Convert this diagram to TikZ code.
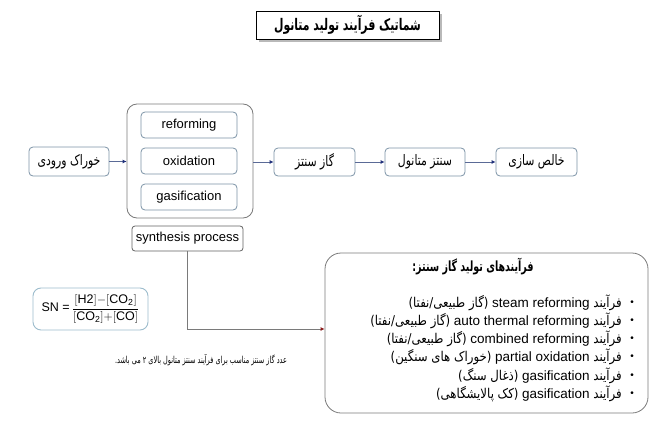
\documentclass[tikz,border=0pt]{standalone}
\usepackage{fontspec}
\usetikzlibrary{arrows.meta}
\setmainfont{Liberation Sans}
\newfontfamily\fa[Script=Arabic, FakeStretch=0.87]{DejaVu Sans}
\newfontfamily\fabox[Script=Arabic, FakeStretch=0.75]{DejaVu Sans}
\newfontfamily\fanar[Script=Arabic, FakeStretch=0.68]{DejaVu Sans}
\newfontfamily\en{Liberation Sans}
\TeXXeTstate=1
\newcommand{\fatxt}[1]{{\fa\beginR #1\endR}}
\newcommand{\entxt}[1]{\beginL{\en #1}\endL{}}
\definecolor{boxc}{HTML}{7C93A6}
\definecolor{linec}{HTML}{5A6A96}
\definecolor{tipc}{HTML}{1F2F7A}
\definecolor{snc}{HTML}{9CBCCC}
\definecolor{grayc}{HTML}{7A7A7A}
\definecolor{redtip}{HTML}{8B1A1A}
\tikzset{
  pbox/.style={draw=boxc, rounded corners=4pt, line width=0.8pt, inner sep=0pt, fill=white},
  flow/.style={draw=linec, line width=0.8pt, -{Latex[length=4pt,width=4pt,color=tipc]}},
  conn/.style={draw=grayc, line width=0.8pt, -{Latex[length=4pt,width=4pt,color=redtip]}},
  entx/.style={font=\en\fontsize{13}{15}\selectfont},
  fatx/.style={font=\fabox\fontsize{14.5}{16}\selectfont},
  listline/.style={anchor=east, inner sep=0pt, font=\fontsize{13.5}{15}\selectfont},
  bullet/.style={inner sep=0pt, font=\en\fontsize{10}{12}\selectfont}
}
\begin{document}
\begin{tikzpicture}[x=1pt,y=-1pt]
\useasboundingbox (0,0) rectangle (654,423);
% title
\fill[gray!55] (258.5,13.5) rectangle (441.5,41.5);
\node[draw=black, line width=0.9pt, fill=white, minimum width=183pt, minimum height=28pt, inner sep=0pt,
  font=\fanar\bfseries\fontsize{16}{18}\selectfont] (title) at (347.5,25) {\beginR شماتیک فرآیند تولید متانول\endR};
% feed
\node[pbox, fatx, minimum width=80pt, minimum height=29pt] (feed) at (69,161.5) {\beginR خوراک ورودی\endR};
% big box
\node[pbox, rounded corners=10pt, draw=grayc, minimum width=126pt, minimum height=114pt] (big) at (190,161) {};
\node[pbox, entx, minimum width=96pt, minimum height=26pt] (ref) at (189,125) {reforming};
\node[pbox, entx, minimum width=96pt, minimum height=26pt] (oxi) at (189,161) {oxidation};
\node[pbox, entx, minimum width=96pt, minimum height=26pt] (gas) at (189,197) {gasification};
\node[pbox, entx, draw=grayc!80!black, rounded corners=3pt, minimum width=111pt, minimum height=25pt] (synth) at (187.5,238.5) {synthesis process};
% chain
\node[pbox, fatx, minimum width=81pt, minimum height=28pt] (syngas) at (314.5,162) {\beginR گاز سنتز\endR};
\node[pbox, fatx, minimum width=80pt, minimum height=28pt] (meth) at (425,162) {\beginR سنتز متانول\endR};
\node[pbox, fatx, minimum width=81pt, minimum height=28pt] (pur) at (536.5,162) {\beginR خالص سازی\endR};
\draw[flow] (feed.east) -- (big.west |- feed.east);
\draw[flow] (big.east |- syngas.west) -- (syngas.west);
\draw[flow] (syngas.east) -- (meth.west);
\draw[flow] (meth.east) -- (pur.west);
% SN box
\node[draw=snc, line width=0.9pt, rounded corners=8pt, minimum width=115pt, minimum height=42pt, inner sep=0pt,
  font=\fontsize{12.5}{15}\selectfont] (sn) at (90.5,309)
  {{\en SN =\,}$\displaystyle\frac{[\mathrm{H2}]{-}[\mathrm{CO_2}]}{[\mathrm{CO_2}]{+}[\mathrm{CO}]}$};
\node[inner sep=0pt, font=\fanar\fontsize{9.6}{12}\selectfont] (note) at (201,360) {\beginR عدد گاز سنتز مناسب برای فرآیند سنتز متانول بالای ۲ می باشد.\endR};
% right box
\node[draw=grayc, line width=0.8pt, rounded corners=16pt, minimum width=323pt, minimum height=160pt, inner sep=0pt] (rbox) at (486.5,333) {};
\node[inner sep=0pt, font=\fanar\bfseries\fontsize{14}{16}\selectfont] (rtitle) at (473,267) {\beginR فرآیندهای تولید گاز سنتز:\endR};
\draw[conn] (synth.south) |- ([yshift=4pt]rbox.west);
% list
\foreach \yy in {303,321,339,357,376,394} {\node[bullet] at (632,\yy) {•};}
\node[listline] (l1) at (622,303) {\fatxt{فرآیند \entxt{steam reforming} (گاز طبیعی/نفتا)}};
\node[listline] (l2) at (622,321) {\fatxt{فرآیند \entxt{auto thermal reforming} (گاز طبیعی/نفتا)}};
\node[listline] (l3) at (622,339) {\fatxt{فرآیند \entxt{combined reforming} (گاز طبیعی/نفتا)}};
\node[listline] (l4) at (622,357) {\fatxt{فرآیند \entxt{partial oxidation} (خوراک های سنگین)}};
\node[listline] (l5) at (622,376) {\fatxt{فرآیند \entxt{gasification} (ذغال سنگ)}};
\node[listline] (l6) at (622,394) {\fatxt{فرآیند \entxt{gasification} (کک پالایشگاهی)}};
\end{tikzpicture}
\end{document}
